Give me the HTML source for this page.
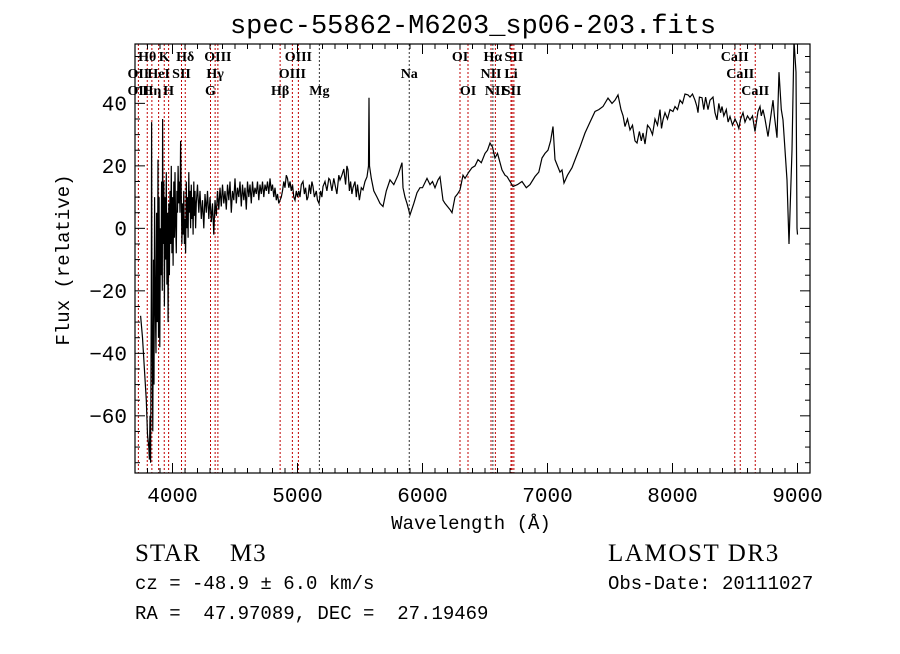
<!DOCTYPE html>
<html><head><meta charset="utf-8"><style>
body{margin:0;background:#fff;width:900px;height:649px;overflow:hidden}
svg text{fill:#000}
</style></head><body>
<svg id="chart" width="900" height="649" xmlns="http://www.w3.org/2000/svg">
<rect width="900" height="649" fill="#fff"/>
<text x="473" y="33" text-anchor="middle" font-family="Liberation Mono, monospace" font-size="27">spec-55862-M6203_sp06-203.fits</text>
<defs><clipPath id="pc"><rect x="135" y="44" width="675" height="429"/></clipPath></defs>
<g id="lines" clip-path="url(#pc)"></g>
<g id="labels" font-family="Liberation Serif, serif" font-size="14" font-weight="bold"></g>
<path id="spec" clip-path="url(#pc)" fill="none" stroke="#000" stroke-width="1.2"/>
<g id="ticks" stroke="#000" stroke-width="1"></g>
<rect x="135" y="44" width="675" height="429" fill="none" stroke="#000" stroke-width="1.2"/>
<g id="tlabels" font-family="Liberation Mono, monospace" font-size="21"></g>
<text x="471" y="529" text-anchor="middle" font-family="Liberation Mono, monospace" font-size="19">Wavelength (Å)</text>
<text transform="translate(69,260) rotate(-90)" text-anchor="middle" font-family="Liberation Mono, monospace" font-size="19">Flux (relative)</text>
<text x="135" y="561" font-family="Liberation Serif, serif" font-size="25" letter-spacing="1" xml:space="preserve">STAR    M3</text>
<text x="608" y="561" font-family="Liberation Serif, serif" font-size="25" letter-spacing="1.6">LAMOST DR3</text>
<text x="135" y="589" font-family="Liberation Mono, monospace" font-size="19" xml:space="preserve">cz = -48.9 ± 6.0 km/s</text>
<text x="608" y="589" font-family="Liberation Mono, monospace" font-size="19">Obs-Date: 20111027</text>
<text x="135" y="619" font-family="Liberation Mono, monospace" font-size="19" xml:space="preserve">RA =  47.97089, DEC =  27.19469</text>
</svg>
<script>
const wavelengths=[3745,3760,3775,3790,3800,3810,3815,3820,3825,3830,3833,3836,3842,3848,3852,3857,3862,3868,3873,3878,3884,3888,3893,3898,3903,3908,3913,3918,3921,3925,3930,3935,3940,3945,3950,3955,3960,3965,3970,3975,3980,3985,3990,3995,4000,4005,4010,4015,4020,4025,4030,4035,4040,4045,4050,4055,4060,4065,4070,4075,4080,4085,4090,4095,4100,4105,4110,4115,4120,4125,4130,4135,4140,4145,4150,4155,4160,4165,4170,4175,4180,4185,4190,4200,4210,4220,4230,4240,4250,4260,4270,4280,4290,4300,4310,4320,4330,4340,4350,4360,4370,4380,4390,4400,4410,4420,4430,4440,4450,4460,4470,4480,4490,4500,4510,4520,4530,4540,4550,4560,4570,4580,4590,4600,4610,4620,4630,4640,4650,4660,4670,4680,4690,4700,4710,4720,4730,4740,4750,4760,4770,4780,4790,4800,4810,4820,4830,4840,4850,4860,4870,4880,4890,4900,4910,4920,4930,4940,4950,4960,4970,4980,4990,5000,
5010,5020,5030,5044,5055,5065,5075,5084,5095,5105,5115,5124,5135,5150,5160,5172,5185,5195,5204,5220,5235,5250,5260,5275,5290,5300,5315,5330,5340,5355,5370,5385,5395,5404,5415,5425,5435,5444,5460,5470,5480,5495,5510,5524,5540,5556,5568,5572,5576,5590,5610,5636,5660,5684,5710,5740,5770,5804,5820,5836,5844,5860,5876,5900,5930,5956,5980,6000,6036,6060,6080,6100,6124,6140,6164,6180,6200,6220,6236,6260,6280,6300,6324,6340,6370,6396,6420,6444,6470,6500,6520,6540,6560,6580,6600,6636,6660,6676,6700,6724,6760,6796,6830,6860,6900,6930,6956,6980,7004,7025,7044,7060,7080,7100,7116,7132,7160,7196,7230,7260,7300,7340,7380,7410,7444,7484,7516,7540,7564,7588,7605,7620,7640,7660,7680,7700,7716,7735,7750,7764,7780,7800,7820,7840,7860,7880,7900,7912,7924,7940,7960,7980,8004,8020,8040,8060,8080,8100,8124,8140,8160,8180,8195,8204,8215,8236,8250,8265,8284,8300,8324,8340,8356,8370,8385,8396,8410,8430,8445,8460,8480,8500,8516,8530,8545,8564,8580,8600,8620,8640,8660,8684,8700,8710,8724,8740,8764,8780,8804,8815,8836,8852,8870,8884,8916,8932,8956,8972,8988,8996,9000];
const fluxes=[-28,-35,-45,-55,-66,-70,-74,-60,-75,-20,34,-30,-65,-10,-50,10,-25,-40,5,-30,22,-35,10,-38,0,-15,15,-20,35,-5,15,-25,10,-10,18,-18,5,-30,8,-15,12,-5,20,-8,10,-12,15,-3,18,2,-8,12,5,20,8,15,5,28,10,-5,8,-2,12,-5,3,-8,15,0,10,-3,18,5,12,0,14,3,10,-2,15,4,12,0,8,14,5,12,3,9,0,11,5,12,3,10,2,8,-2,9,4,12,6,13,7,14,8,12,6,14,9,15,5,12,9,16,8,13,10,15,7,14,9,13,6,15,10,14,8,15,10,13,11,15,9,14,11,15,10,14,12,15,11,16,12,14,10,13,9,11,8,9,10,12,15,13,17,16,13,15,12,14,10,9,12,10,
12,10,14,15,11,13,9,10,14,11,15,13.4,10,12,9,8,12,10,13.4,15,12,16,15.5,12,16,14,11,17,15.5,17,19,14,20,18.7,12,15,11,13,15,10,14,9,13,12.3,15,16.5,20,41.8,20,16,12,10,8,7,12,15.5,14,17,19,21,13,10,8,4.3,8,11.4,13,13,16,14,15,13,15.5,16.5,9,8,7,6,5,10,11,12.3,17,16,18,19.4,20,22,21,24,25,27.3,26,22.5,24,18.7,17,16.6,15,13.4,14,15,13,14,16.6,18,22.5,24,25,28,32.6,22,20,18,18.7,14.5,17,19.4,23,26,30.5,34,37.4,38,39,41.7,40,41,42.7,38,36,32.6,35,31.5,33,28,27.3,31,28,30.5,27,33,32,30,35,33,38,32,34.7,37,35,38,37.4,39,38,41,40,43,42.7,42,43,41,39,37,42,41.8,38,42,38,41,42,37,34.7,40,37,39,36,38,34,35.8,33,35,33.7,32,35,37,34,36,34.7,36,31,37.4,39,36,38,35,29.4,34,41,36,29,50,38,34.7,15.5,-5,25,60,50,0,-2];
const lineWl=[3727,3798,3835,3889,3934,3969,4072,4102,4304,4341,4363,4861,4959,5007,5175,5894,6300,6364,6548,6563,6583,6708,6717,6731,8498,8542,8662];
const lineBlack=[5175,5894,6563];
const labelText=["Hθ","K","Hδ","OIII","OIII","OI","Hα","SII","CaII","OII","HeI","SII","Hγ","OIII","Na","NII","Li","CaII","OII","Hη","H","G","Hβ","Mg","OI","NII","SII","CaII"];
const labelWl=[3798,3934,4102,4363,5007,6300,6563,6731,8498,3727,3889,4072,4341,4959,5894,6548,6708,8542,3727,3835,3969,4304,4861,5175,6364,6583,6717,8662];
const labelRow=[0,0,0,0,0,0,0,0,0,1,1,1,1,1,1,1,1,1,2,2,2,2,2,2,2,2,2,2];
const xTicks=[4000,5000,6000,7000,8000,9000];
const yTicks=[-60,-40,-20,0,20,40];
const X0=3700,X1=9100,Y0=-78.3,Y1=59;
const L=135,R=810,T=44,B=473;
function xs(w){return L+(w-X0)/(X1-X0)*(R-L);}
function ys(f){return T+(Y1-f)/(Y1-Y0)*(B-T);}
const NS='http://www.w3.org/2000/svg';
function mk(t,p,a){const e=document.createElementNS(NS,t);for(const k in a)e.setAttribute(k,a[k]);p.appendChild(e);return e;}
let d='';
const n=Math.min(wavelengths.length,fluxes.length);
for(let i=0;i<n;i++){d+=(i?'L':'M')+xs(wavelengths[i]).toFixed(1)+','+ys(fluxes[i]).toFixed(1);}
document.getElementById('spec').setAttribute('d',d);
const lg=document.getElementById('lines');
lineWl.forEach(w=>{const e=mk('line',lg,{x1:xs(w),x2:xs(w),y1:T,y2:B,stroke:lineBlack.includes(w)?'#333':'#c00000','stroke-width':1,'stroke-dasharray':'2,2'});

});
const lb=document.getElementById('labels');
const rowY=[61,78,95];
labelText.forEach((t,i)=>{const e=mk('text',lb,{x:xs(labelWl[i]),y:rowY[labelRow[i]],'text-anchor':'middle'});e.textContent=t;

});
const tg=document.getElementById('ticks');
for(let w=3700;w<=9100;w+=100){const x=xs(w),maj=w%1000===0,l=maj?10:5;
mk('line',tg,{x1:x,x2:x,y1:B,y2:B-l});mk('line',tg,{x1:x,x2:x,y1:T,y2:T+l});}
for(let f=-75;f<=55;f+=5){const y=ys(f),maj=f%20===0,l=maj?10:5;
mk('line',tg,{x1:L,x2:L+l,y1:y,y2:y});mk('line',tg,{x1:R,x2:R-l,y1:y,y2:y});}
const tl=document.getElementById('tlabels');
xTicks.forEach(v=>{const e=mk('text',tl,{x:xs(v),y:B+29,'text-anchor':'middle'});e.textContent=v;

});
yTicks.forEach(v=>{const e=mk('text',tl,{x:L-8,y:ys(v)+7,'text-anchor':'end'});e.textContent=v===0?'0':String(v).replace('-','−');

});
</script>
</body></html>
